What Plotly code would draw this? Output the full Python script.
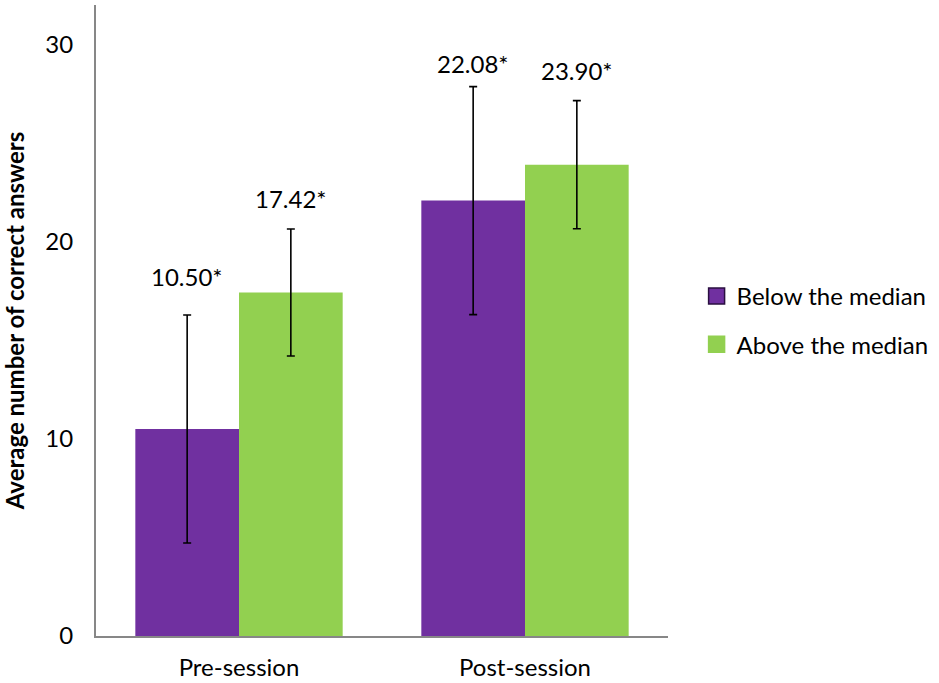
import plotly.graph_objects as go

# Average number of correct answers by session and group
sessions = ["Pre-session", "Post-session"]
below_mean = [10.50, 22.08]
below_err = [5.78, 5.78]
above_mean = [17.42, 23.90]
above_err = [3.22, 3.25]
series_names = ["Below the median", "Above the median"]
y_ticks = [0, 10, 20, 30]

# Vertical gap (px) between each error-bar cap and its value label
below_label_gap = [38, 23]
above_label_gap = [31, 30]

PURPLE = "#7030A0"
GREEN = "#92D050"
FONT = "Lato, 'Open Sans', sans-serif"

fig = go.Figure()
for name, means, errs, color in [
    (series_names[0], below_mean, below_err, PURPLE),
    (series_names[1], above_mean, above_err, GREEN),
]:
    fig.add_trace(go.Bar(
        name=name,
        x=sessions,
        y=means,
        marker=dict(color=color, line=dict(width=0)),
        error_y=dict(type="data", array=errs, visible=True,
                     color="black", thickness=1.6, width=4),
        showlegend=False,
    ))

# Legend entries with larger square swatches
for name, color, edge, group in [
    (series_names[0], PURPLE, "#2a0f40", "g1"),
    (series_names[1], GREEN, GREEN, "g2"),
]:
    fig.add_trace(go.Scatter(
        x=[None], y=[None], mode="markers", name=name,
        marker=dict(symbol="square", size=16, color=color,
                    line=dict(color=edge, width=1.5)),
        legendgroup=group, showlegend=True,
    ))

# Value labels placed above each error bar
for means, errs, gaps, shift in [(below_mean, below_err, below_label_gap, -52),
                                 (above_mean, above_err, above_label_gap, 52)]:
    for s, m, e, g in zip(sessions, means, errs, gaps):
        fig.add_annotation(
            x=s, y=m + e, text=f"{m:.2f}*", showarrow=False,
            xshift=shift, yshift=g, yanchor="middle",
            font=dict(family=FONT, size=24, color="black"),
        )

fig.update_layout(
    width=939, height=683,
    margin=dict(l=96, r=269, t=5, b=47),
    paper_bgcolor="white", plot_bgcolor="white",
    barmode="group", bargap=0.275, bargroupgap=0,
    font=dict(family=FONT, size=24, color="black"),
    legend=dict(x=1.05, y=0.5, xanchor="left", yanchor="middle",
                traceorder="grouped", tracegroupgap=14, itemwidth=30,
                font=dict(family=FONT, size=24, color="black")),
    showlegend=True,
)
fig.update_xaxes(
    showline=True, linecolor="#878787", linewidth=2,
    ticks="", showgrid=False, range=[-0.5, 1.5],
    ticklabelstandoff=9, automargin=False,
    tickfont=dict(family=FONT, size=24),
)
fig.update_yaxes(
    range=[0, 32], tickvals=y_ticks, showgrid=False, zeroline=False,
    showline=True, linecolor="#878787", linewidth=2, ticks="",
    ticklabelstandoff=16, automargin=False,
    tickfont=dict(family=FONT, size=24),
    title=dict(text="<b>Average number of correct answers</b>",
               font=dict(family=FONT, size=24), standoff=14),
)

fig.write_html("out.html")
